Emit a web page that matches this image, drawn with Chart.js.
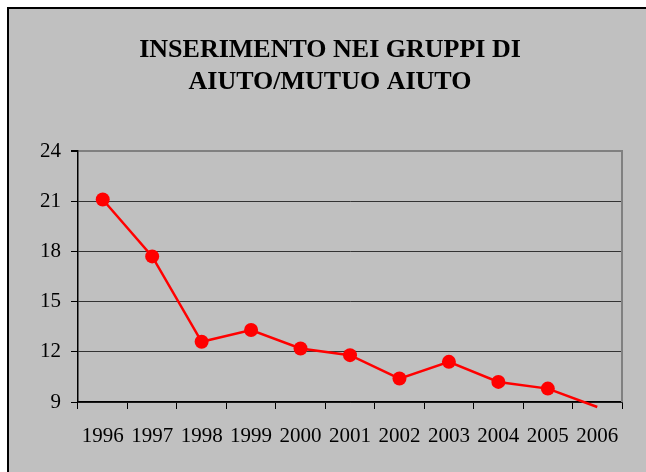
<!DOCTYPE html>
<html>
<head>
<meta charset="utf-8">
<script src="https://cdn.jsdelivr.net/npm/chart.js@4/dist/chart.umd.min.js"></script>
<style>
  html, body { margin: 0; padding: 0; background: #fff; }
  #frame {
    position: absolute; left: 7px; top: 7px; width: 637px; height: 463px;
    background: #c0c0c0; border-top: 2px solid #000; border-left: 2px solid #000;
  }
  #chart { position: absolute; left: 0; top: 0; }
</style>
</head>
<body>
<div id="frame"></div>
<canvas id="chart" width="646" height="472"></canvas>
<script>
// anni e valori della serie
const years = ["1996", "1997", "1998", "1999", "2000", "2001", "2002", "2003", "2004", "2005", "2006"];
const values = [21.1, 17.7, 12.6, 13.3, 12.2, 11.8, 10.4, 11.4, 10.2, 9.8, 8.7];
const yTicks = [9, 12, 15, 18, 21, 24];

const serif = "'Liberation Serif', 'Times New Roman', serif";

// bordo destro grigio dell'area del grafico
const plotBorder = {
  id: "plotBorder",
  afterDraw(chart) {
    const { ctx, chartArea } = chart;
    ctx.save();
    ctx.strokeStyle = "#808080";
    ctx.lineWidth = 2;
    ctx.beginPath();
    ctx.moveTo(chartArea.right, chartArea.top - 1);
    ctx.lineTo(chartArea.right, chartArea.bottom);
    ctx.stroke();
    ctx.restore();
  }
};

new Chart(document.getElementById("chart"), {
  type: "line",
  data: {
    labels: years,
    datasets: [{
      data: values,
      borderColor: "#ff0000",
      backgroundColor: "#ff0000",
      borderWidth: 2.5,
      pointRadius: values.map(v => (v < 9 ? 0 : 7)),
      pointBorderWidth: 0,
      pointHoverRadius: 7,
      tension: 0,
      clip: { left: 0, top: 0, right: 0, bottom: 8 }
    }]
  },
  options: {
    responsive: false,
    animation: false,
    layout: { padding: { left: 38, right: 24, top: 0, bottom: 0 } },
    plugins: {
      legend: { display: false },
      tooltip: { enabled: false },
      title: {
        display: true,
        text: ["INSERIMENTO NEI GRUPPI DI", "AIUTO/MUTUO AIUTO"],
        color: "#000",
        font: { family: serif, size: 26, weight: "bold", lineHeight: "32px" },
        padding: { top: 34, bottom: 53 }
      }
    },
    scales: {
      x: {
        offset: true,
        grid: {
          offset: true,
          drawOnChartArea: false,
          drawTicks: true,
          tickLength: 7,
          tickColor: "#000",
          color: "#000"
        },
        border: { color: "#000", width: 1.5 },
        ticks: {
          color: "#000",
          font: { family: serif, size: 21 },
          padding: 15,
          maxRotation: 0,
          autoSkip: false
        },
        afterFit(scale) { scale.height = 70; }
      },
      y: {
        min: 9,
        max: 24,
        afterBuildTicks(scale) { scale.ticks = yTicks.map(v => ({ value: v })); },
        grid: {
          color: c => (c.tick && c.tick.value === 24 ? "#808080" : "#333"),
          lineWidth: c => (c.tick && c.tick.value === 24 ? 2 : 1),
          tickLength: 7,
          tickColor: "#000"
        },
        border: { color: "#000", width: 1.5 },
        ticks: {
          color: "#000",
          font: { family: serif, size: 21 },
          padding: 10
        },
        afterFit(scale) { scale.width = 40; }
      }
    }
  },
  plugins: [plotBorder]
});
</script>
</body>
</html>
